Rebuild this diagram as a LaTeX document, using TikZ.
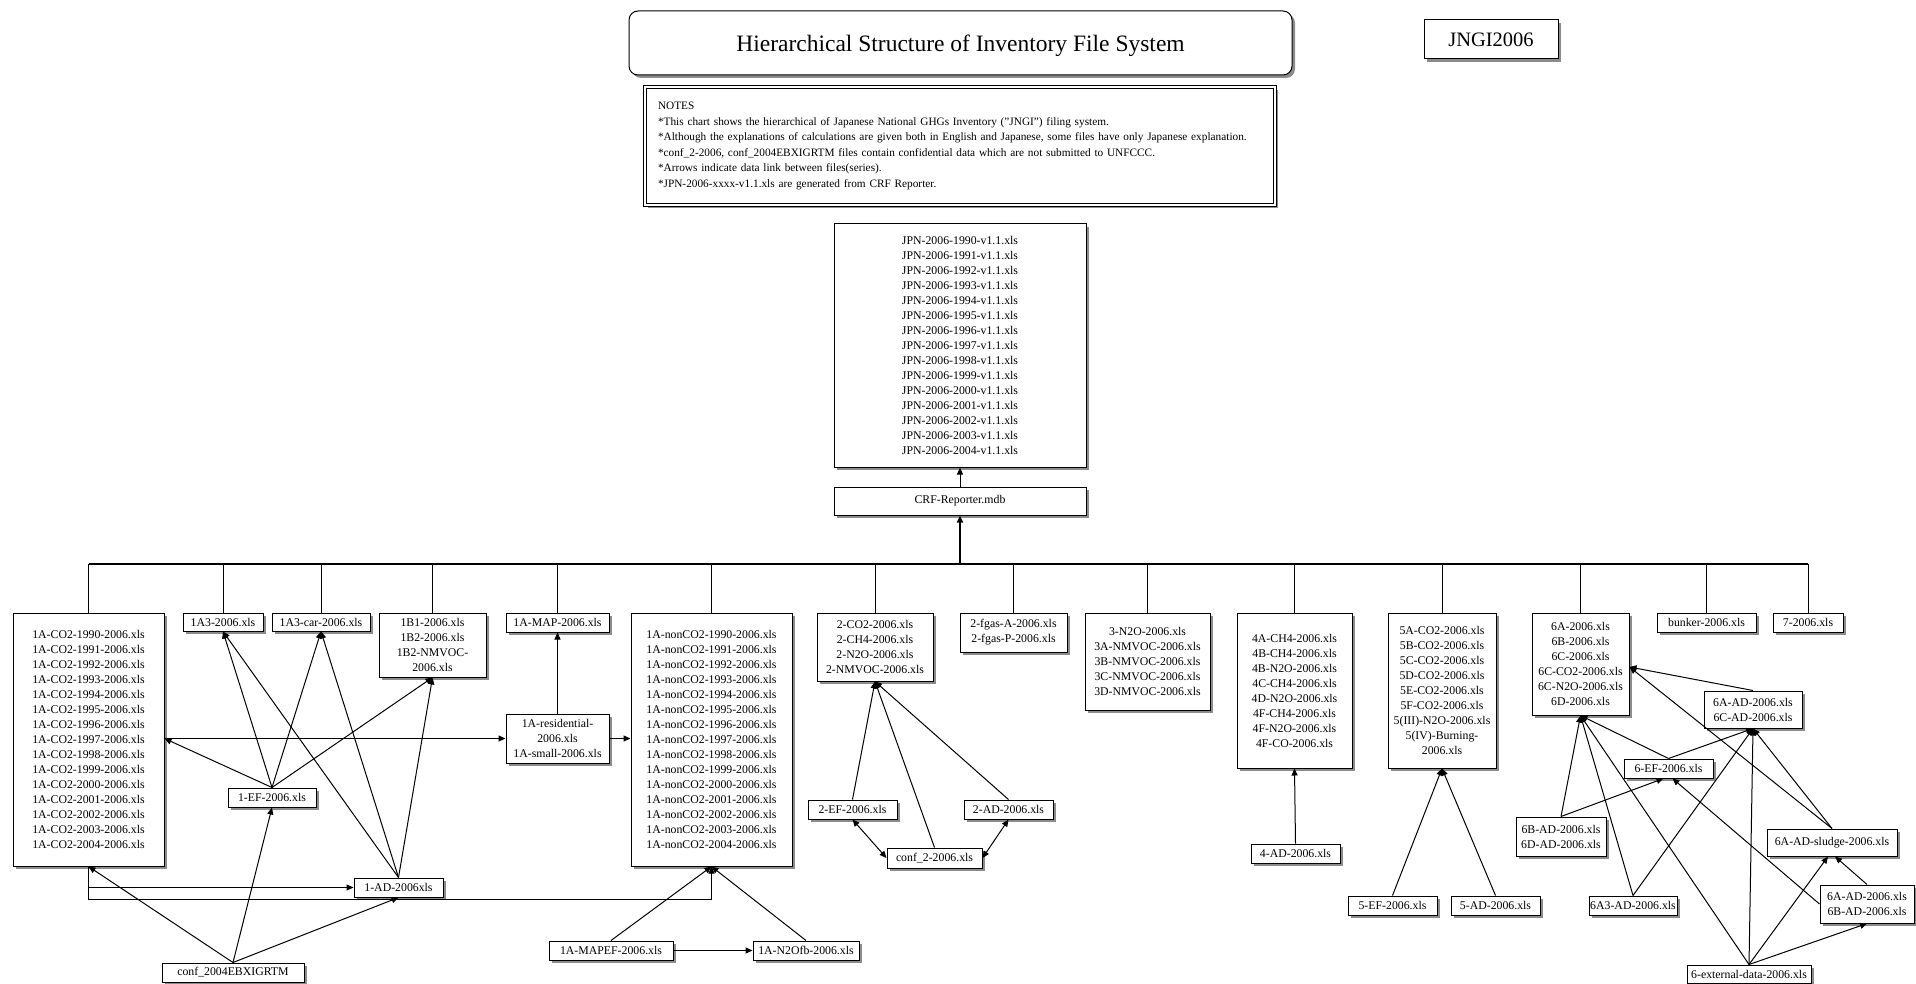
\documentclass[tikz,border=0pt]{standalone}
\usepackage{fontspec}
\setmainfont{Liberation Serif}
\usetikzlibrary{arrows.meta,shadows,calc}

% font used inside the file boxes
\newcommand\filefont{\fontsize{11.8}{15}\selectfont}
% a file box given by its left, top, right and bottom edges
\newcommand\filebox[6]{%
  \node[fbox, minimum width={#4-#2}, minimum height={#5-#3}] (#1)
    at ({(#2+#4)/2},{(#3+#5)/2}) {#6};}

\begin{document}
\begin{tikzpicture}[x=1pt,y=-1pt,
  boxshadow/.style={drop shadow={shadow xshift=3pt,shadow yshift=-3pt,opacity=1,fill=black!45}},
  fbox/.style={draw, line width=1pt, fill=white, inner sep=0pt, align=center,
    font=\filefont, boxshadow},
  link/.style={line width=1pt, -{Triangle[length=7pt,width=6pt]}},
  twoway/.style={line width=1pt, {Triangle[length=7pt,width=6pt]}-{Triangle[length=7pt,width=6pt]}},
  tree/.style={line width=1pt},
]
\useasboundingbox (0,0) rectangle (1916,984);

% ---------- heading ----------
\node[draw, line width=1pt, rounded corners=9pt, fill=white, boxshadow,
  minimum width=663, minimum height=64, inner sep=0pt, text depth=0pt,
  font=\fontsize{23.5}{28}\selectfont] (title) at (960.5,43)
  {Hierarchical Structure of Inventory File System};

\node[fbox, minimum width=134, minimum height=39,
  font=\fontsize{20.5}{24}\selectfont] (jngi) at (1491,39.5) {JNGI2006};

\node[draw, double, line width=0.8pt, double distance=2pt, fill=white, boxshadow,
  align=left, text width=604pt, inner xsep=13pt, inner ysep=0pt,
  minimum height=118, font=\fontsize{11.3}{15.6}\selectfont] (notes) at (960,146)
  {NOTES\\{}%
   *This chart shows the hierarchical of Japanese National GHGs Inventory ("JNGI") filing system.\\{}%
   *Although the explanations of calculations are given both in English and Japanese, some files have only Japanese explanation.\\{}%
   *conf\_2-2006, conf\_2004EBXIGRTM files contain confidential data which are not submitted to UNFCCC.\\{}%
   *Arrows indicate data link between files(series).\\{}%
   *JPN-2006-xxxx-v1.1.xls are generated from CRF Reporter.};

% ---------- reporting files ----------
\filebox{jpn}{834}{224}{1086}{467}{JPN-2006-1990-v1.1.xls\\JPN-2006-1991-v1.1.xls\\
  JPN-2006-1992-v1.1.xls\\JPN-2006-1993-v1.1.xls\\JPN-2006-1994-v1.1.xls\\
  JPN-2006-1995-v1.1.xls\\JPN-2006-1996-v1.1.xls\\JPN-2006-1997-v1.1.xls\\
  JPN-2006-1998-v1.1.xls\\JPN-2006-1999-v1.1.xls\\JPN-2006-2000-v1.1.xls\\
  JPN-2006-2001-v1.1.xls\\JPN-2006-2002-v1.1.xls\\JPN-2006-2003-v1.1.xls\\
  JPN-2006-2004-v1.1.xls}
\filebox{crf}{834}{487}{1086}{515}{CRF-Reporter.mdb}

% ---------- sector files (first row) ----------
\filebox{co2}{13}{613}{164}{866}{1A-CO2-1990-2006.xls\\1A-CO2-1991-2006.xls\\
  1A-CO2-1992-2006.xls\\1A-CO2-1993-2006.xls\\1A-CO2-1994-2006.xls\\
  1A-CO2-1995-2006.xls\\1A-CO2-1996-2006.xls\\1A-CO2-1997-2006.xls\\
  1A-CO2-1998-2006.xls\\1A-CO2-1999-2006.xls\\1A-CO2-2000-2006.xls\\
  1A-CO2-2001-2006.xls\\1A-CO2-2002-2006.xls\\1A-CO2-2003-2006.xls\\
  1A-CO2-2004-2006.xls}
\filebox{a3}{183}{613}{263}{631}{1A3-2006.xls}
\filebox{car}{272}{613}{370}{631}{1A3-car-2006.xls}
\filebox{b1}{379}{613}{486}{677}{1B1-2006.xls\\1B2-2006.xls\\1B2-NMVOC-\\2006.xls}
\filebox{map}{506}{613}{609}{632}{1A-MAP-2006.xls}
\filebox{nonco2}{631}{613}{792}{866}{1A-nonCO2-1990-2006.xls\\1A-nonCO2-1991-2006.xls\\
  1A-nonCO2-1992-2006.xls\\1A-nonCO2-1993-2006.xls\\1A-nonCO2-1994-2006.xls\\
  1A-nonCO2-1995-2006.xls\\1A-nonCO2-1996-2006.xls\\1A-nonCO2-1997-2006.xls\\
  1A-nonCO2-1998-2006.xls\\1A-nonCO2-1999-2006.xls\\1A-nonCO2-2000-2006.xls\\
  1A-nonCO2-2001-2006.xls\\1A-nonCO2-2002-2006.xls\\1A-nonCO2-2003-2006.xls\\
  1A-nonCO2-2004-2006.xls}
\filebox{ind}{817}{613}{933}{681}{2-CO2-2006.xls\\2-CH4-2006.xls\\2-N2O-2006.xls\\2-NMVOC-2006.xls}
\filebox{fgas}{960}{613}{1067}{652}{2-fgas-A-2006.xls\\2-fgas-P-2006.xls}
\filebox{sol}{1085}{613}{1210}{710}{3-N2O-2006.xls\\3A-NMVOC-2006.xls\\3B-NMVOC-2006.xls\\
  3C-NMVOC-2006.xls\\3D-NMVOC-2006.xls}
\filebox{agr}{1237}{613}{1352}{768}{4A-CH4-2006.xls\\4B-CH4-2006.xls\\4B-N2O-2006.xls\\
  4C-CH4-2006.xls\\4D-N2O-2006.xls\\4F-CH4-2006.xls\\4F-N2O-2006.xls\\4F-CO-2006.xls}
\filebox{lulucf}{1388}{613}{1496}{768}{5A-CO2-2006.xls\\5B-CO2-2006.xls\\5C-CO2-2006.xls\\
  5D-CO2-2006.xls\\5E-CO2-2006.xls\\5F-CO2-2006.xls\\5(III)-N2O-2006.xls\\
  5(IV)-Burning-\\2006.xls}
\filebox{waste}{1532}{613}{1629}{715}{6A-2006.xls\\6B-2006.xls\\6C-2006.xls\\
  6C-CO2-2006.xls\\6C-N2O-2006.xls\\6D-2006.xls}
\filebox{bunker}{1657}{613}{1756}{632}{bunker-2006.xls}
\filebox{seven}{1773}{613}{1843}{632}{7-2006.xls}

% ---------- supporting files ----------
\filebox{res}{506}{714}{609}{763}{1A-residential-\\2006.xls\\1A-small-2006.xls}
\filebox{ef1}{228}{788}{316}{807}{1-EF-2006.xls}
\filebox{ad1}{354}{878}{443}{897}{1-AD-2006xls}
\filebox{conf1}{162}{963}{304}{982}{conf\_2004EBXIGRTM}
\filebox{mapef}{549}{941}{673}{960}{1A-MAPEF-2006.xls}
\filebox{nfb}{753}{941}{859}{960}{1A-N2Ofb-2006.xls}
\filebox{ef2}{808}{800}{897}{819}{2-EF-2006.xls}
\filebox{ad2}{964}{800}{1053}{819}{2-AD-2006.xls}
\filebox{conf2}{887}{848}{982}{868}{conf\_2-2006.xls}
\filebox{ad4}{1251}{844}{1340}{863}{4-AD-2006.xls}
\filebox{ef5}{1348}{896}{1437}{915}{5-EF-2006.xls}
\filebox{ad5}{1451}{896}{1540}{915}{5-AD-2006.xls}
\filebox{adac}{1704}{691}{1802}{728}{6A-AD-2006.xls\\6C-AD-2006.xls}
\filebox{ef6}{1624}{759}{1713}{778}{6-EF-2006.xls}
\filebox{adbd}{1516}{817}{1606}{856}{6B-AD-2006.xls\\6D-AD-2006.xls}
\filebox{sludge}{1767}{829}{1897}{856}{6A-AD-sludge-2006.xls}
\filebox{ada3}{1589}{896}{1677}{915}{6A3-AD-2006.xls}
\filebox{adab}{1820}{885}{1914}{923}{6A-AD-2006.xls\\6B-AD-2006.xls}
\filebox{ext}{1687}{965}{1811}{983}{6-external-data-2006.xls}

% ---------- tree from CRF Reporter down to the sector files ----------
\coordinate (bus) at (960,564);
\draw[line width=2pt] (co2.north |- bus) -- (seven.north |- bus);
\foreach \n in {co2,a3,car,b1,map,nonco2,ind,fgas,sol,agr,lulucf,waste,bunker,seven}
  \draw[tree] (\n.north) -- (\n.north |- bus);
\draw[link, line width=2pt] (bus) -- (crf.south);
\draw[link] (crf.north) -- (jpn.south);

% ---------- energy links ----------
\draw[link] (co2.east |- res.west) -- (res.west);
\draw[link] (res.east) -- (res.east -| nonco2.west);
\draw[link] (res.north) -- (map.south);
\foreach \t in {a3,car,b1} {
  \draw[link] (ef1.north) -- (\t.south);
  \draw[link] (ad1.north) -- (\t.south);
}
\draw[link] (ef1.north) -- (co2.east |- res.west);
\draw[link] (conf1.north) -- (co2.south);
\draw[link] (conf1.north) -- (ef1.south);
\draw[link] (conf1.north) -- (ad1.south);
\draw[link] (co2.south) |- (ad1.west);
\draw[link] (co2.south) -- ++(0,33) -| (nonco2.south);
\draw[link] (mapef.north) -- (nonco2.south);
\draw[link] (nfb.north) -- (nonco2.south);
\draw[link] (mapef.east) -- (nfb.west);

% ---------- industrial processes ----------
\draw[link] (ef2.north) -- (ind.south);
\draw[link] (conf2.north) -- (ind.south);
\draw[link] (ad2.north) -- (ind.south);
\draw[twoway] (ef2.south) -- (conf2.west);
\draw[twoway] (ad2.south) -- (conf2.east);

% ---------- agriculture, LULUCF ----------
\draw[link] (ad4.north) -- (agr.south);
\draw[link] (ef5.north) -- (lulucf.south);
\draw[link] (ad5.north) -- (lulucf.south);

% ---------- waste ----------
\coordinate (wside) at ($(waste.east)+(0,3)$);
\draw[link] (adac.north) -- (wside);
\draw[link] (sludge.north) -- (wside);
\draw[link] (sludge.north) -- (adac.south);
\draw[link] (ef6.north) -- (waste.south);
\draw[link] (ef6.north) -- (adac.south);
\draw[link] (adbd.north) -- (waste.south);
\draw[link] (adbd.north) -- ($(ef6.south)+(-5,0)$);
\draw[link] (ada3.north) -- (waste.south);
\draw[link] (ada3.north) -- (adac.south);
\draw[link] (ext.north) -- (waste.south);
\draw[link] (ext.north) -- (adac.south);
\draw[link] (ext.north) -- ($(sludge.south)+(-4,0)$);
\draw[link] (ext.north) -- (adab.south);
\draw[link] (adab.north) -- ($(sludge.south)+(3,0)$);
\draw[link] (adab.west) -- ($(ef6.south)+(4,0)$);
\end{tikzpicture}
\end{document}
